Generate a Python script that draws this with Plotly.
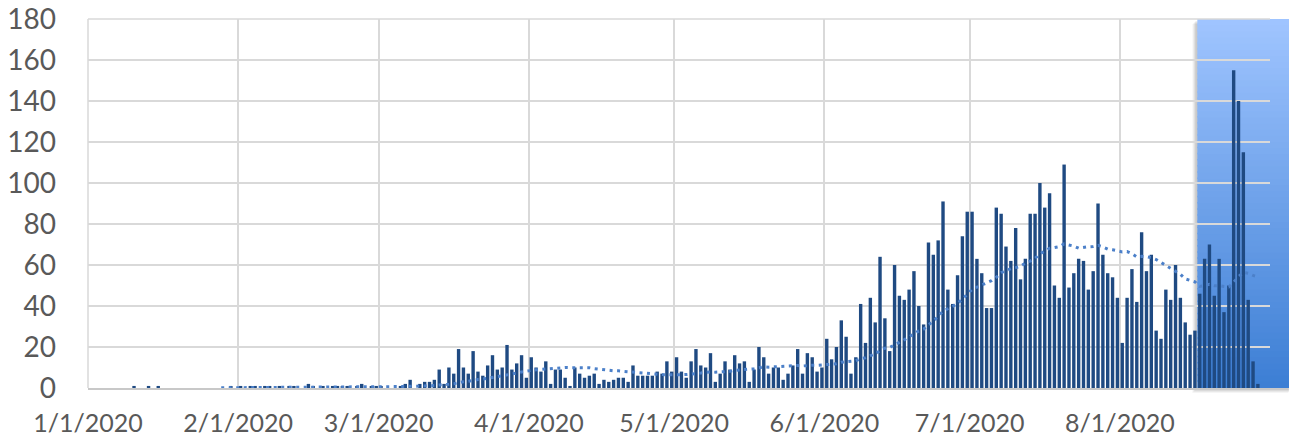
import pandas as pd
import plotly.graph_objects as go

# ---------------- data (daily values, 1 Jan 2020 .. 29 Aug 2020) ----------------
start_date = "2020-01-01"
jan = [0, 0, 0, 0, 0, 0, 0, 0, 0, 1, 0, 0, 1, 0, 1, 0, 0, 0, 0, 0,
       0, 0, 0, 0, 0, 0, 0, 0, 0, 1, 0]
feb = [1, 0, 1, 1, 0, 1, 1, 0, 1, 0, 1, 1, 0, 0, 2, 1, 0, 1, 0, 1,
       1, 1, 1, 0, 1, 2, 0, 1, 1]
mar = [1, 0, 0, 0, 1, 2, 4, 0, 2, 3, 3, 4, 9, 2, 10, 7, 19, 10, 7, 18,
       8, 6, 11, 16, 9, 10, 21, 9, 12, 16, 5]
apr = [15, 10, 8, 13, 2, 9, 9, 5, 1, 10, 7, 5, 6, 7, 2, 4, 3, 4, 5, 5,
       3, 11, 6, 6, 6, 6, 8, 7, 13, 8]
may = [15, 8, 5, 13, 19, 11, 10, 17, 3, 7, 13, 9, 16, 12, 13, 3, 9, 20, 15, 7,
       10, 10, 4, 7, 11, 19, 7, 17, 15, 8, 10]
jun = [24, 14, 20, 33, 25, 7, 15, 41, 22, 44, 32, 64, 34, 18, 60, 45, 43, 48, 57, 40,
       31, 71, 65, 72, 91, 48, 41, 55, 74, 86]
jul = [86, 63, 56, 39, 39, 88, 85, 69, 62, 78, 53, 63, 85, 85, 100, 88, 95, 50, 44, 109,
       49, 56, 63, 62, 48, 57, 90, 65, 56, 54, 44]
aug = [22, 44, 58, 42, 76, 57, 65, 28, 24, 48, 43, 60, 44, 32, 26, 28, 46, 63, 70, 45,
       63, 37, 50, 155, 140, 115, 43, 13, 2]

tick_dates = ["2020-01-01", "2020-02-01", "2020-03-01", "2020-04-01",
              "2020-05-01", "2020-06-01", "2020-07-01", "2020-08-01"]
tick_labels = ["1/1/2020", "2/1/2020", "3/1/2020", "4/1/2020",
               "5/1/2020", "6/1/2020", "7/1/2020", "8/1/2020"]
y_ticks = [0, 20, 40, 60, 80, 100, 120, 140, 160, 180]

highlight_start = "2020-08-17"
axis_start = "2020-01-01"
axis_end = "2020-09-01"
trend_period = 28

values = jan + feb + mar + apr + may + jun + jul + aug
dates = pd.date_range(start_date, periods=len(values), freq="D")
trend = pd.Series(values, dtype=float).rolling(trend_period).mean()

# ---------------- figure ----------------
fig = go.Figure()
fig.add_trace(go.Bar(
    x=dates, y=values,
    xperiod=86400000, xperiodalignment="middle",
    marker=dict(color="#1F4A82", line=dict(width=0)),
    name="daily",
))
fig.add_trace(go.Scatter(
    x=dates, y=trend,
    xperiod=86400000, xperiodalignment="middle",
    mode="lines",
    line=dict(color="#4C80C9", width=3, dash="3px,4.5px"),
    name="trend",
))

# highlight box with vertical gradient (paper coords; extends past the right edge)
t0 = pd.Timestamp(axis_start)
t1 = pd.Timestamp(axis_end)
hx0 = (pd.Timestamp(highlight_start) - t0) / (t1 - t0)
plot_w, plot_h = 1182.0, 369.0
hx1 = hx0 + 94.0 / plot_w

shapes = []
# soft shadow (offset to lower-left)
for k, a in [(5, 0.04), (4, 0.05), (3, 0.06), (2, 0.07)]:
    shapes.append(dict(type="rect", xref="paper", yref="paper", layer="below",
                       x0=hx0 - k / plot_w, x1=hx1 - k / plot_w + 2 / plot_w,
                       y0=-k / plot_h, y1=1 - k / plot_h,
                       fillcolor=f"rgba(0,0,0,{a})", line=dict(width=0)))
top_c = (160, 197, 255)
bot_c = (60, 126, 212)
n = 60
for i in range(n):
    f = (i + 0.5) / n
    c = tuple(int(round(bot_c[j] + (top_c[j] - bot_c[j]) * f)) for j in range(3))
    shapes.append(dict(type="rect", xref="paper", yref="paper", layer="below",
                       x0=hx0, x1=hx1, y0=i / n, y1=min(1.0, (i + 1) / n + 0.004),
                       fillcolor=f"rgb{c}", line=dict(width=0)))
# border gridlines (plotly drops grid lines lying exactly on the plot edges)
shapes.append(dict(type="line", xref="paper", yref="paper", layer="below",
                   x0=0, x1=1, y0=1, y1=1, line=dict(color="#D9D9D9", width=1.5)))
shapes.append(dict(type="line", xref="paper", yref="paper", layer="below",
                   x0=0, x1=0, y0=0, y1=1, line=dict(color="#D9D9D9", width=1.5)))

# the page places the figure 8px from the top-left corner
fig.update_layout(
    width=1289, height=432,
    margin=dict(l=80, r=27, t=11, b=52, autoexpand=False),
    paper_bgcolor="white", plot_bgcolor="white",
    showlegend=False,
    bargap=0.3,
    shapes=shapes,
    font=dict(family="Lato, sans-serif", color="#595959"),
)
fig.update_xaxes(
    type="date",
    range=[axis_start, axis_end],
    tickvals=tick_dates, ticktext=tick_labels,
    tickfont=dict(size=25, color="#595959"),
    showgrid=True, gridcolor="#D9D9D9", gridwidth=1.5,
    showline=True, linecolor="#C8C8C8", linewidth=1.5,
    ticks="", ticklabelstandoff=12, automargin=False,
    ticklabeloverflow="allow",
)
fig.update_yaxes(
    range=[0, 180],
    tickvals=y_ticks,
    tickfont=dict(size=28, color="#595959"),
    showgrid=True, gridcolor="#D9D9D9", gridwidth=1.5,
    zeroline=False, showline=False,
    ticks="", ticklabelstandoff=31, automargin=False,
    ticklabeloverflow="allow",
)

fig.write_html("out.html")
